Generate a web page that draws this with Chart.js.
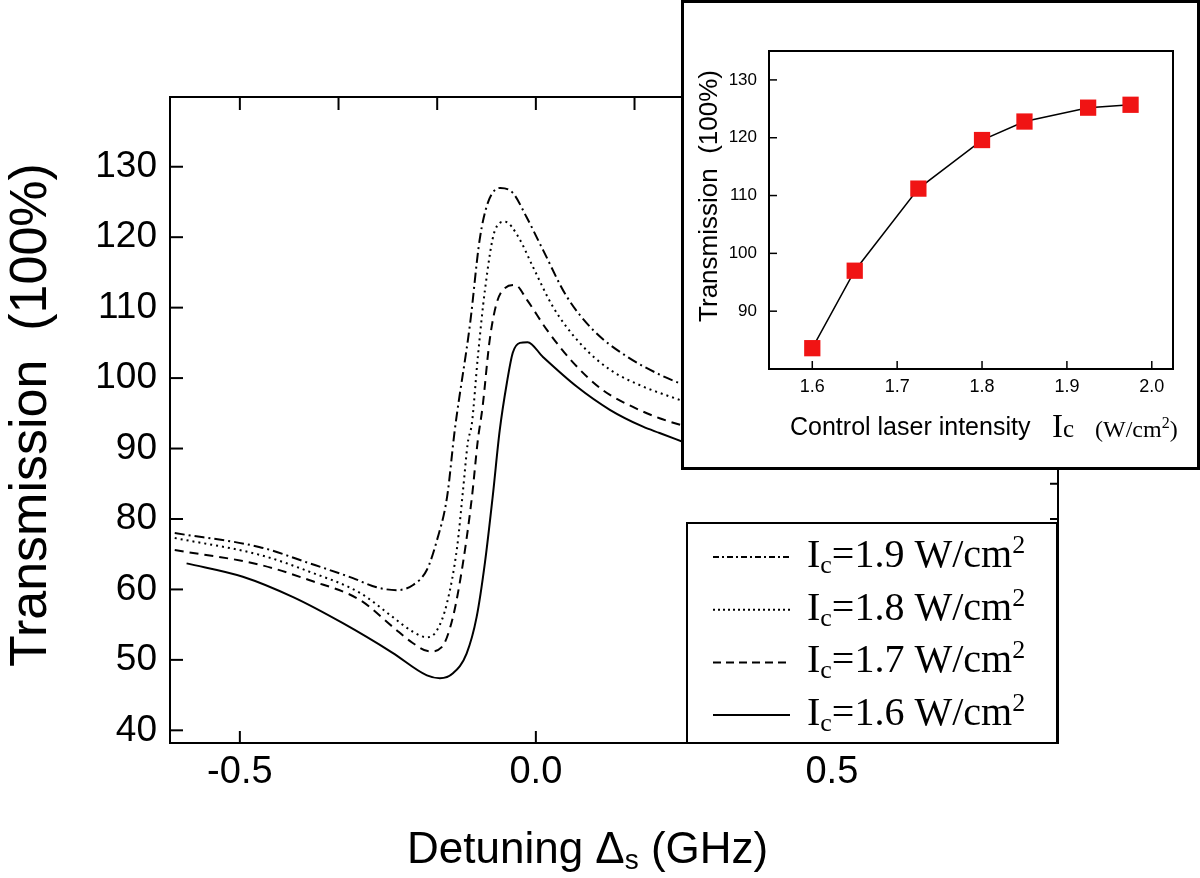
<!DOCTYPE html>
<html>
<head>
<meta charset="utf-8">
<script src="https://cdn.jsdelivr.net/npm/chart.js@4.4.1/dist/chart.umd.min.js"></script>
<style>
  html, body { margin: 0; padding: 0; background: #fff; }
  #wrap { position: relative; width: 1200px; height: 878px; overflow: hidden; background: #fff; }
  #main { position: absolute; left: 0; top: 0; }
  #insetBox { position: absolute; left: 681px; top: 0; width: 519px; height: 470px; box-sizing: border-box; border: 3px solid #000; background: #fff; }
  #inset { display: block; }
</style>
</head>
<body>
<div id="wrap">
  <canvas id="main" width="1200" height="878"></canvas>
  <div id="insetBox"><canvas id="inset" width="513" height="464"></canvas></div>
</div>
<script>
// Main panel: probe transmission vs detuning for four control intensities
// Inset: peak transmission vs control laser intensity
const xTickValues = [-0.5, 0, 0.5];
const xTopTickValues = [-0.5, -1 / 3, -1 / 6, 0, 1 / 6, 1 / 3, 0.5, 2 / 3, 5 / 6];
const yTickValues = [50, 60, 70, 80, 90, 100, 110, 120, 130];
const yTickLabels = ['40', '50', '60', '80', '90', '100', '110', '120', '130'];
const yRightTickValues = [50, 55, 60, 65, 70, 75, 80, 85, 90, 95, 100, 105, 110, 115, 120, 125, 130, 135];

// Ic = 1.9 W/cm2 (dash-dot)
const dashDotX = [-0.610, -0.466, -0.382, -0.309, -0.269, -0.235, -0.208, -0.184, -0.167, -0.150, -0.137, -0.111, -0.095, -0.081, -0.060, -0.039, -0.016, 0.012, 0.052, 0.097, 0.153, 0.209, 0.25];
const dashDotY = [78.0, 76.0, 73.7, 71.6, 70.3, 69.9, 70.6, 72.8, 77.0, 83.1, 92.6, 107.8, 119.6, 124.9, 127.0, 126.3, 122.9, 118.2, 111.6, 106.8, 103.1, 100.5, 99.0];
// Ic = 1.8 W/cm2 (dotted)
const dottedX = [-0.610, -0.466, -0.382, -0.297, -0.242, -0.208, -0.184, -0.167, -0.150, -0.133, -0.123, -0.115, -0.108, -0.098, -0.086, -0.069, -0.052, -0.030, -0.005, 0.029, 0.074, 0.125, 0.181, 0.209, 0.25];
const dottedY = [77.3, 74.9, 72.5, 69.5, 66.1, 64.0, 63.2, 64.2, 68.1, 76.0, 84.1, 90.8, 93.6, 103.0, 112.5, 121.0, 122.2, 120.1, 115.8, 110.1, 105.0, 101.2, 98.8, 97.9, 96.7];
// Ic = 1.7 W/cm2 (dashed)
const dashedX = [-0.610, -0.466, -0.382, -0.297, -0.242, -0.208, -0.179, -0.159, -0.140, -0.123, -0.108, -0.098, -0.090, -0.078, -0.066, -0.052, -0.035, -0.015, 0.019, 0.063, 0.113, 0.164, 0.209, 0.25];
const dashedY = [75.6, 73.5, 71.3, 68.5, 64.7, 62.4, 61.2, 61.8, 66.1, 73.8, 83.1, 91.2, 95.9, 105.4, 110.7, 112.8, 113.2, 111.1, 106.8, 102.2, 98.3, 95.9, 94.3, 93.2];
// Ic = 1.6 W/cm2 (solid)
const solidX = [-0.590, -0.495, -0.410, -0.326, -0.242, -0.184, -0.162, -0.140, -0.117, -0.100, -0.086, -0.073, -0.061, -0.049, -0.039, -0.027, -0.014, 0.012, 0.069, 0.125, 0.181, 0.209, 0.25];
const solidY = [73.7, 71.8, 68.9, 65.2, 61.0, 57.8, 57.4, 58.1, 60.9, 66.1, 73.8, 83.1, 92.6, 99.3, 103.6, 105.0, 105.1, 103.0, 98.8, 95.5, 93.1, 92.2, 90.9];

const legendIntensities = ['1.9', '1.8', '1.7', '1.6'];

// inset
const insetX = [1.6, 1.65, 1.725, 1.8, 1.85, 1.925, 1.975];
const insetY = [83.6, 97.0, 111.2, 119.6, 122.8, 125.2, 125.7];
const insetXTicks = [1.6, 1.7, 1.8, 1.9, 2.0];
const insetYTicks = [90, 100, 110, 120, 130];

const SANS = '"Liberation Sans", Arial, sans-serif';
const SERIF = '"Liberation Serif", "Times New Roman", serif';
const dashStyles = [[10, 4, 2, 4], [2, 4], [9, 6], []];
const legendDash = [[6, 3, 2, 3], [2, 3], [8, 5], []];

function pts(xs, ys) { return xs.map((x, i) => ({ x, y: ys[i] })); }
function setTicks(vals) { return s => { s.ticks = vals.map(v => ({ value: v })); }; }

// draws runs of [text, font, dy] left to right
function drawRuns(ctx, runs, x, y) {
  runs.forEach(([t, font, dy]) => {
    ctx.font = font;
    ctx.fillText(t, x, y + (dy || 0));
    x += ctx.measureText(t).width;
  });
  return x;
}

const inwardTicks = {
  id: 'inwardTicks',
  afterDraw(chart, args, opts) {
    const ctx = chart.ctx;
    const area = chart.chartArea;
    ctx.save();
    ctx.strokeStyle = '#000';
    ctx.lineWidth = opts.width || 2;
    ctx.setLineDash([]);
    Object.values(chart.scales).forEach(s => {
      const len = opts.len[s.id];
      if (!len) return;
      s.ticks.forEach(t => {
        const p = s.getPixelForValue(t.value);
        ctx.beginPath();
        if (s.position === 'bottom') {
          if (p < area.left || p > area.right) return;
          ctx.moveTo(p, area.bottom); ctx.lineTo(p, area.bottom - len);
        } else if (s.position === 'top') {
          if (p < area.left || p > area.right) return;
          ctx.moveTo(p, area.top); ctx.lineTo(p, area.top + len);
        } else if (s.position === 'left') {
          if (p < area.top || p > area.bottom) return;
          ctx.moveTo(area.left, p); ctx.lineTo(area.left + len, p);
        } else {
          if (p < area.top || p > area.bottom) return;
          ctx.moveTo(area.right, p); ctx.lineTo(area.right - len, p);
        }
        ctx.stroke();
      });
    });
    ctx.restore();
  }
};

const mainDecor = {
  id: 'mainDecor',
  afterDraw(chart) {
    const ctx = chart.ctx;
    ctx.save();
    ctx.fillStyle = '#000';
    // y title
    ctx.save();
    ctx.translate(46, 415);
    ctx.rotate(-Math.PI / 2);
    ctx.font = '52px ' + SANS;
    ctx.textAlign = 'center';
    ctx.textBaseline = 'alphabetic';
    ctx.fillText('Transmission  (100%)', 0, 0);
    ctx.restore();
    // x title
    ctx.textAlign = 'left';
    ctx.textBaseline = 'alphabetic';
    drawRuns(ctx, [
      ['Detuning \u0394', '44px ' + SANS, 0],
      ['s', '28px ' + SANS, 6],
      [' (GHz)', '44px ' + SANS, 0]
    ], 407, 863);
    // legend box
    ctx.fillStyle = '#fff';
    ctx.fillRect(687, 523, 370, 220);
    ctx.strokeStyle = '#000';
    ctx.lineWidth = 2;
    ctx.strokeRect(687, 523, 370, 220);
    legendIntensities.forEach((v, i) => {
      const ly = 557 + i * 52.7;
      ctx.save();
      ctx.setLineDash(legendDash[i]);
      ctx.lineWidth = 2;
      ctx.beginPath();
      ctx.moveTo(713, ly); ctx.lineTo(790, ly);
      ctx.stroke();
      ctx.restore();
      ctx.fillStyle = '#000';
      drawRuns(ctx, [
        ['I', '40px ' + SERIF, 0],
        ['c', '26px ' + SERIF, 6],
        ['=' + v + ' W/cm', '40px ' + SERIF, 0],
        ['2', '26px ' + SERIF, -14]
      ], 807, ly + 10);
    });
    ctx.restore();
  }
};

new Chart(document.getElementById('main'), {
  type: 'line',
  data: {
    datasets: [
      { data: pts(dashDotX, dashDotY), borderDash: dashStyles[0] },
      { data: pts(dottedX, dottedY), borderDash: dashStyles[1] },
      { data: pts(dashedX, dashedY), borderDash: dashStyles[2] },
      { data: pts(solidX, solidY), borderDash: dashStyles[3] }
    ].map(d => Object.assign(d, {
      borderColor: '#000', borderWidth: 2, pointRadius: 0, fill: false,
      cubicInterpolationMode: 'monotone'
    }))
  },
  options: {
    responsive: false,
    animation: false,
    layout: { padding: 0 },
    plugins: {
      legend: { display: false },
      tooltip: { enabled: false },
      inwardTicks: { width: 2, len: { x: 12, xTop: 13, y: 13, yRight: 8 } }
    },
    scales: {
      x: {
        type: 'linear', position: 'bottom', min: -0.618, max: 0.882,
        afterBuildTicks: setTicks(xTickValues),
        afterFit: s => { s.height = 135; },
        grid: { display: false, drawTicks: false },
        border: { display: true, color: '#000', width: 2 },
        ticks: { color: '#000', padding: 7, font: { family: SANS, size: 38 }, callback: v => Number(v).toFixed(1), maxRotation: 0 }
      },
      xTop: {
        type: 'linear', position: 'top', min: -0.618, max: 0.882,
        afterBuildTicks: setTicks(xTopTickValues),
        afterFit: s => { s.height = 97; },
        grid: { display: false, drawTicks: false },
        border: { display: true, color: '#000', width: 2 },
        ticks: { display: false }
      },
      y: {
        type: 'linear', position: 'left', min: 48.2, max: 139.9,
        afterBuildTicks: setTicks(yTickValues),
        afterFit: s => { s.width = 170; },
        grid: { display: false, drawTicks: false },
        border: { display: true, color: '#000', width: 2 },
        ticks: {
          color: '#000', padding: 13, font: { family: SANS, size: 37 },
          callback: v => { const i = yTickValues.indexOf(v); return i >= 0 ? yTickLabels[i] : ''; }
        }
      },
      yRight: {
        type: 'linear', position: 'right', min: 48.2, max: 139.9,
        afterBuildTicks: setTicks(yRightTickValues),
        afterFit: s => { s.width = 142; },
        grid: { display: false, drawTicks: false },
        border: { display: true, color: '#000', width: 2 },
        ticks: { display: false }
      }
    }
  },
  plugins: [inwardTicks, mainDecor]
});

const insetDecor = {
  id: 'insetDecor',
  afterDraw(chart) {
    const ctx = chart.ctx;
    const a = chart.chartArea;
    ctx.save();
    ctx.strokeStyle = '#000';
    ctx.lineWidth = 2;
    ctx.strokeRect(a.left, a.top, a.right - a.left, a.bottom - a.top);
    ctx.fillStyle = '#000';
    // y title
    ctx.save();
    ctx.translate(33, 193);
    ctx.rotate(-Math.PI / 2);
    ctx.font = '26px ' + SANS;
    ctx.textAlign = 'center';
    ctx.fillText('Transmission  (100%)', 0, 0);
    ctx.restore();
    // x title
    ctx.textAlign = 'left';
    drawRuns(ctx, [['Control laser intensity', '25px ' + SANS, 0]], 106, 432);
    drawRuns(ctx, [['I', '33px ' + SERIF, 0], ['c', '25px ' + SERIF, 0]], 368, 434);
    drawRuns(ctx, [['(W/cm', '24px ' + SERIF, 0], ['2', '16px ' + SERIF, -9], [')', '24px ' + SERIF, 0]], 411, 434);
    ctx.restore();
  }
};

new Chart(document.getElementById('inset'), {
  type: 'line',
  data: {
    datasets: [{
      data: pts(insetX, insetY),
      borderColor: '#000', borderWidth: 1.5, tension: 0, fill: false,
      pointStyle: 'rect', pointRadius: 11.5,
      pointBackgroundColor: '#f01414', pointBorderColor: '#f01414', pointBorderWidth: 0
    }]
  },
  options: {
    responsive: false,
    animation: false,
    layout: { padding: { top: 48, right: 24, left: 0, bottom: 0 } },
    plugins: {
      legend: { display: false },
      tooltip: { enabled: false },
      inwardTicks: { width: 1.5, len: { x: 8, y: 8 } }
    },
    scales: {
      x: {
        type: 'linear', position: 'bottom', min: 1.549, max: 2.025,
        afterBuildTicks: setTicks(insetXTicks),
        afterFit: s => { s.height = 98; },
        grid: { display: false, drawTicks: false },
        border: { display: false },
        ticks: { color: '#000', padding: 7, font: { family: SANS, size: 18 }, callback: v => Number(v).toFixed(1), maxRotation: 0 }
      },
      y: {
        type: 'linear', position: 'left', min: 80, max: 135,
        afterBuildTicks: setTicks(insetYTicks),
        afterFit: s => { s.width = 85; },
        grid: { display: false, drawTicks: false },
        border: { display: false },
        ticks: { color: '#000', padding: 12, font: { family: SANS, size: 17 } }
      }
    }
  },
  plugins: [inwardTicks, insetDecor]
});
</script>
</body>
</html>
